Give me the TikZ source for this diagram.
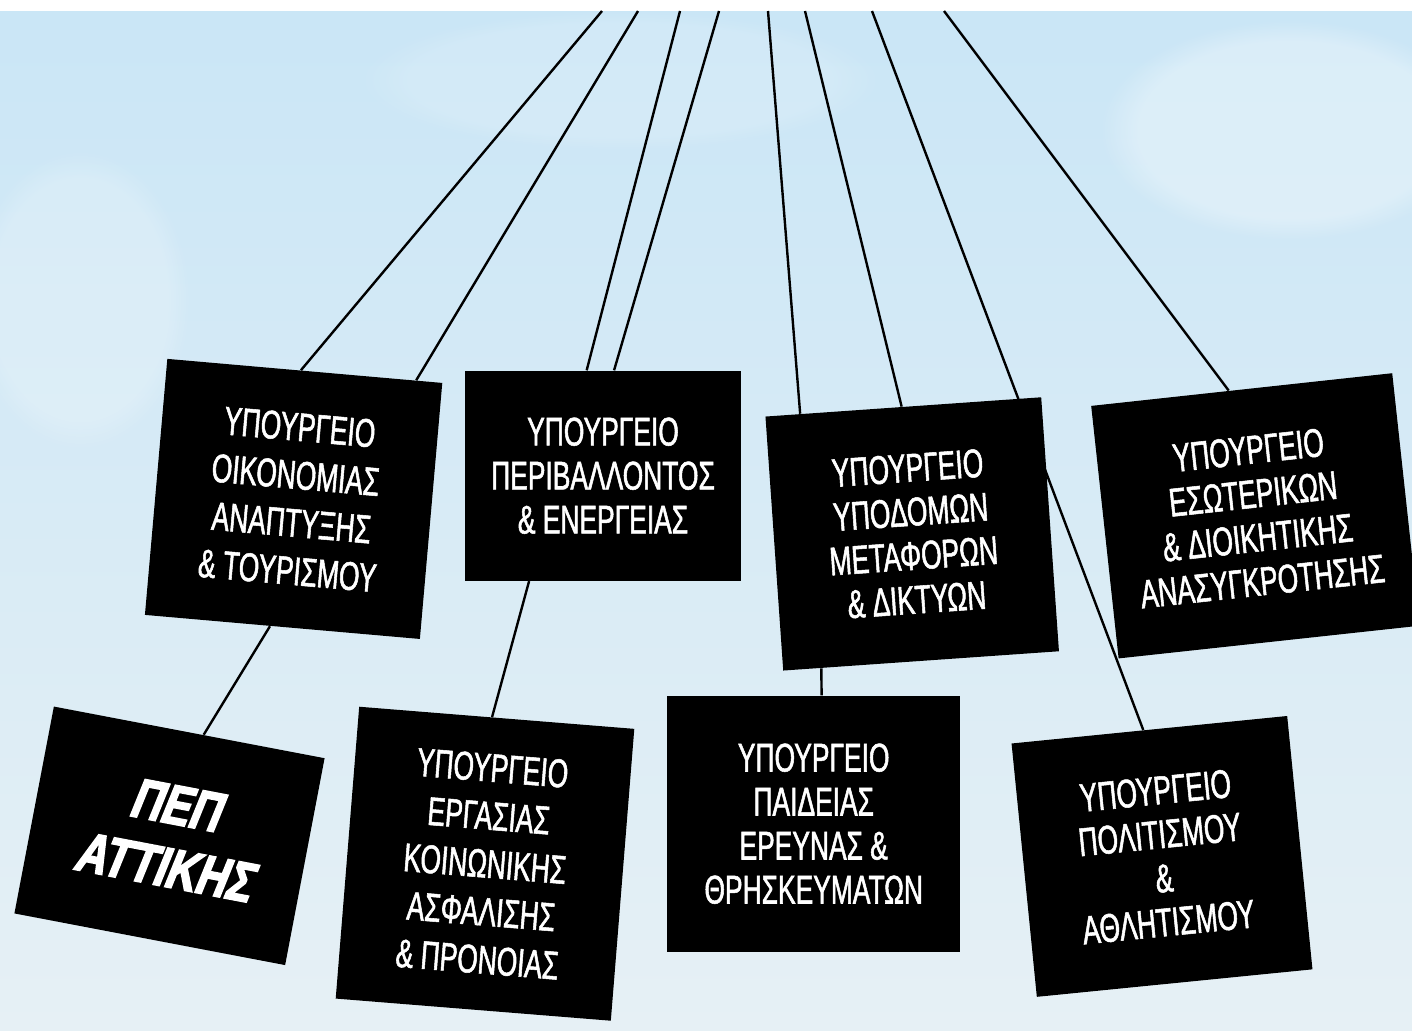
\documentclass[tikz,border=0pt]{standalone}
\usepackage{fontspec}
\usepackage{tikz}
\usetikzlibrary{calc,fadings}
\newfontfamily\signfont[FakeStretch=0.66,FakeBold=1.3]{Liberation Sans}
\newfontfamily\pepfont[FakeStretch=0.76,FakeSlant=0.2,FakeBold=3]{Liberation Sans Bold}
\definecolor{skytop}{RGB}{202,230,246}
\definecolor{skybottom}{RGB}{230,240,245}
\pgfdeclarelayer{sky}
\pgfdeclarelayer{ropes}
\pgfsetlayers{sky,ropes,main}
\tikzset{
  sign/.style={fill=black, text=white, inner sep=0pt, align=center,
    font=\signfont\fontsize{20}{22}\selectfont},
  widesign/.style={sign, font=\signfont\fontsize{20}{24}\selectfont},
  rope/.style={black, line width=1.2pt},
}

\begin{document}
\begin{tikzpicture}[x=0.5pt,y=-0.5pt]
    \useasboundingbox (0,0) rectangle (1412,1030);
    \begin{pgfonlayer}{sky}
        \fill[white] (0,0) rectangle (1412,11);
        \shade[top color=skytop, bottom color=skybottom] (0,11) rectangle (1412,1030);
        \fill[white, opacity=0.3, path fading=circle with fuzzy edge 20 percent] (1290,130) ellipse (190 and 110);
        \fill[white, opacity=0.2, path fading=circle with fuzzy edge 20 percent] (80,300) ellipse (110 and 150);
        \fill[white, opacity=0.15, path fading=circle with fuzzy edge 20 percent] (620,80) ellipse (260 and 70);
    \end{pgfonlayer}

    % top ends of the ropes
    \coordinate (top1) at (602,11);
    \coordinate (top2) at (638,11);
    \coordinate (top3) at (680,11);
    \coordinate (top4) at (719,11);
    \coordinate (top5) at (768,11);
    \coordinate (top6) at (805,11);
    \coordinate (top7) at (872,11);
    \coordinate (top8) at (944,11);

    % signs
    \node[widesign, minimum width=138pt, minimum height=128.5pt, rotate=-5] (oikonomia) at (293.6,498.9)
        {ΥΠΟΥΡΓΕΙΟ\\ΟΙΚΟΝΟΜΙΑΣ\\ΑΝΑΠΤΥΞΗΣ\\\& ΤΟΥΡΙΣΜΟΥ};
    \node[sign, minimum width=138pt, minimum height=105pt] (perivallon) at (603,475.7)
        {ΥΠΟΥΡΓΕΙΟ\\ΠΕΡΙΒΑΛΛΟΝΤΟΣ\\\& ΕΝΕΡΓΕΙΑΣ};
    \node[sign, minimum width=138.2pt, minimum height=127.3pt, rotate=4] (ypodomes) at (912.2,533.9)
        {ΥΠΟΥΡΓΕΙΟ\\ΥΠΟΔΟΜΩΝ\\ΜΕΤΑΦΟΡΩΝ\\\& ΔΙΚΤΥΩΝ};
    \node[sign, minimum width=151.4pt, minimum height=127pt, rotate=6.2] (esoterikon) at (1255.4,515.8)
        {ΥΠΟΥΡΓΕΙΟ\\ΕΣΩΤΕΡΙΚΩΝ\\\& ΔΙΟΙΚΗΤΙΚΗΣ\\ΑΝΑΣΥΓΚΡΟΤΗΣΗΣ};
    \node[sign, minimum width=137.8pt, minimum height=105.3pt, rotate=-10.8,
        font=\pepfont\fontsize{28}{31.5}\selectfont] (pep) at (169.5,835.8)
        {ΠΕΠ\\ΑΤΤΙΚΗΣ};
    \node[widesign, minimum width=138pt, minimum height=146.4pt, rotate=-4.6] (ergasia) at (485,863.7)
        {ΥΠΟΥΡΓΕΙΟ\\ΕΡΓΑΣΙΑΣ\\ΚΟΙΝΩΝΙΚΗΣ\\ΑΣΦΑΛΙΣΗΣ\\\& ΠΡΟΝΟΙΑΣ};
    \node[sign, minimum width=146.4pt, minimum height=128pt] (paideia) at (813.7,823.7)
        {ΥΠΟΥΡΓΕΙΟ\\ΠΑΙΔΕΙΑΣ\\ΕΡΕΥΝΑΣ \&\\ΘΡΗΣΚΕΥΜΑΤΩΝ};
    \node[sign, minimum width=138.5pt, minimum height=127.3pt, rotate=5.7] (politismos) at (1162,856.4)
        {ΥΠΟΥΡΓΕΙΟ\\ΠΟΛΙΤΙΣΜΟΥ\\\&\\ΑΘΛΗΤΙΣΜΟΥ};

    % ropes
    \begin{pgfonlayer}{ropes}
        \foreach \i/\n/\f in {1/oikonomia/0.486, 2/oikonomia/0.904, 3/perivallon/0.441,
                              4/perivallon/0.54, 5/ypodomes/0.127, 6/ypodomes/0.494,
                              7/politismos/0.478, 8/esoterikon/0.457}
            \draw[rope] (top\i) -- ($(\n.north west)!\f!(\n.north east)$);
        \draw[rope] ($(oikonomia.south west)!0.455!(oikonomia.south east)$) -- ($(pep.north west)!0.553!(pep.north east)$);
        \draw[rope] ($(perivallon.south west)!0.233!(perivallon.south east)$) -- ($(ergasia.north west)!0.483!(ergasia.north east)$);
        \draw[rope] ($(ypodomes.south west)!0.139!(ypodomes.south east)$) -- ($(paideia.north west)!0.527!(paideia.north east)$);
    \end{pgfonlayer}
\end{tikzpicture}
\end{document}
